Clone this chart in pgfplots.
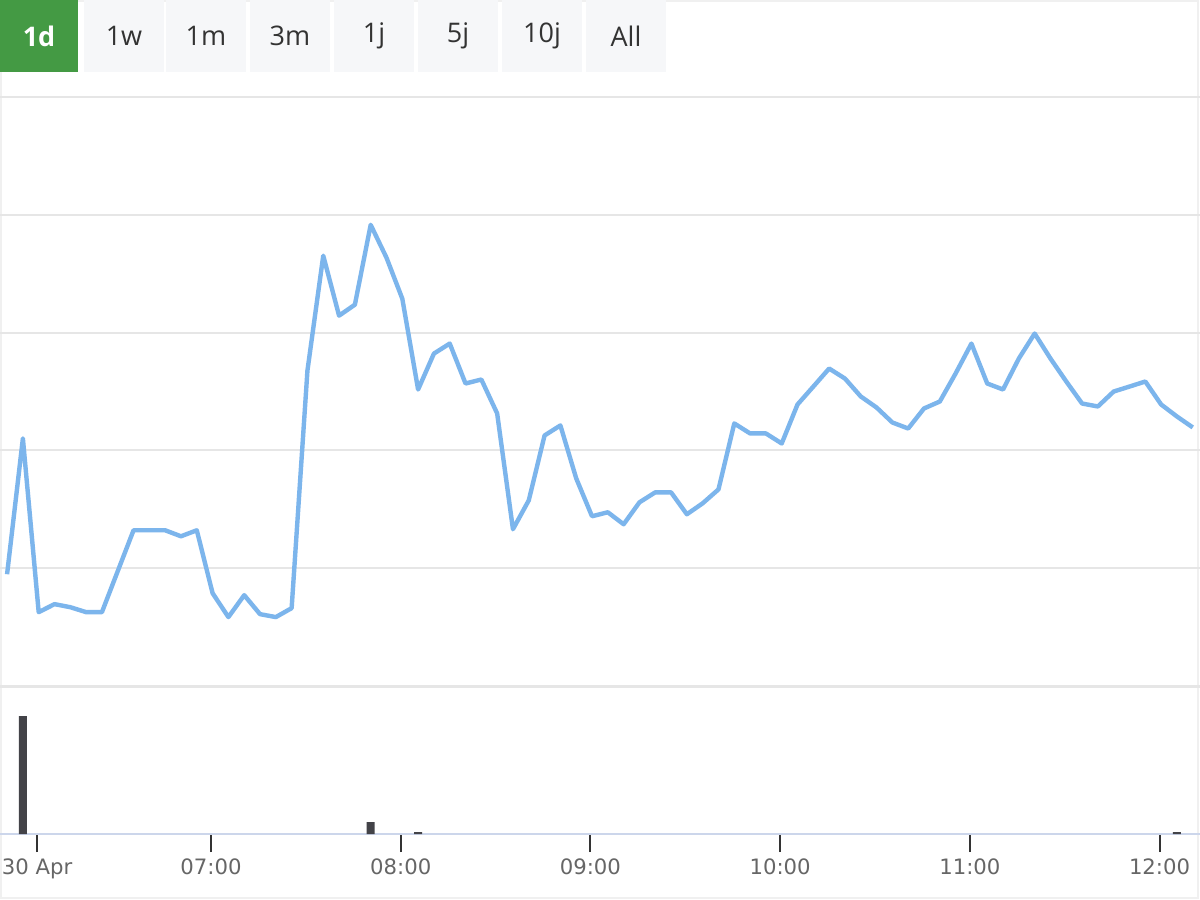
\documentclass[border=0pt]{standalone}
\usepackage{pgfplots}
\pgfplotsset{compat=1.18}
\usepackage{fontspec}
\setmainfont{DejaVu Sans}
\newfontfamily\btnfont{Open Sans}
\definecolor{linec}{HTML}{7CB5EC}
\definecolor{barc}{HTML}{434348}
\definecolor{gridc}{HTML}{E6E6E6}
\definecolor{axc}{HTML}{CCD6EB}
\definecolor{btng}{HTML}{F6F7F9}
\definecolor{btnsel}{HTML}{449A44}
\definecolor{labc}{HTML}{666666}
\definecolor{tickc}{HTML}{333333}
\definecolor{framec}{HTML}{F0F0F0}

\pgfplotstableread{
x y
355.5 0.949
360.5 2.102
365.5 0.627
370.5 0.695
375.5 0.669
380.5 0.627
385.5 0.627
390.5 0.975
395.5 1.322
400.5 1.322
405.5 1.322
410.5 1.271
415.5 1.322
420.5 0.788
425.5 0.585
430.5 0.771
435.5 0.610
440.5 0.585
445.5 0.661
450.5 2.678
455.5 3.653
460.5 3.144
465.5 3.237
470.5 3.915
475.5 3.636
480.5 3.288
485.5 2.517
490.5 2.822
495.5 2.907
500.5 2.568
505.5 2.602
510.5 2.314
515.5 1.331
520.5 1.576
525.5 2.127
530.5 2.212
535.5 1.763
540.5 1.441
545.5 1.475
550.5 1.373
555.5 1.559
560.5 1.644
565.5 1.644
570.5 1.458
575.5 1.551
580.5 1.669
585.5 2.229
590.5 2.144
595.5 2.144
600.5 2.059
605.5 2.390
610.5 2.542
615.5 2.695
620.5 2.610
625.5 2.458
630.5 2.364
635.5 2.237
640.5 2.186
645.5 2.356
650.5 2.415
655.5 2.653
660.5 2.907
665.5 2.568
670.5 2.517
675.5 2.780
680.5 2.992
685.5 2.780
690.5 2.585
695.5 2.398
700.5 2.373
705.5 2.500
710.5 2.542
715.5 2.585
720.5 2.390
725.5 2.288
730.5 2.195
}\pricedata

\pgfplotstableread{
x v
360.5 118
470.5 12
485.5 2
725.5 2
}\voldata

\begin{document}
\begin{tikzpicture}
\fill[white] (0pt,0pt) rectangle (600pt,-450pt);
\begin{scope}[x=0.5pt,y=-0.5pt]
  \draw[framec, line width=1pt] (1,1) rectangle (1198,898);
  % buttons
  \fill[btnsel] (0,0) rectangle (78,72);
  \node[text=white, font=\btnfont\bfseries\fontsize{13.5}{15}\selectfont] at (39,36) {1d};
  \foreach \xa/\lab in {84/1w,166/1m,250/3m,334/1j,418/5j,502/10j,586/All}{
    \fill[btng] (\xa,0) rectangle ({\xa+80},72);
    \node[text=tickc, font=\btnfont\fontsize{13.5}{15}\selectfont] at ({\xa+40},36) {\lab};
  }
  % separator
  \draw[gridc, line width=1.5pt] (0,686) -- (1200,686);
\end{scope}

\begin{axis}[
  at={(0pt,-343pt)}, anchor=south west,
  width=600pt, height=294.5pt, scale only axis,
  xmin=353.26, xmax=732.8, ymin=0, ymax=5,
  axis line style={draw=none},
  xtick=\empty,
  ytick={1,2,3,4,5}, yticklabels={},
  major tick length=0pt,
  ymajorgrids,
  major grid style={gridc, line width=1pt},
]
  \addplot[linec, line width=2.2pt, line join=round, mark=none] table[x=x,y=y] {\pricedata};
\end{axis}

\begin{axis}[
  at={(0pt,-417pt)}, anchor=south west,
  width=600pt, height=72pt, scale only axis,
  xmin=353.26, xmax=732.8, ymin=0, ymax=144,
  axis x line*=bottom, axis y line=none,
  x axis line style={axc, line width=1pt, -},
  xtick={365,420,480,540,600,660,720},
  xticklabels={30 Apr,07:00,08:00,09:00,10:00,11:00,12:00},
  tick align=outside,
  major tick length=9pt,
  xtick style={tickc, line width=1pt},
  xticklabel style={text=labc, font=\fontsize{10.6}{12}\selectfont},
  clip=false,
]
  \addplot[ybar, bar width=4pt, fill=barc, draw=none] table[x=x,y=v] {\voldata};
\end{axis}
\pgfresetboundingbox
\path[use as bounding box] (0pt,0pt) rectangle (600pt,-450pt);
\end{tikzpicture}
\end{document}
